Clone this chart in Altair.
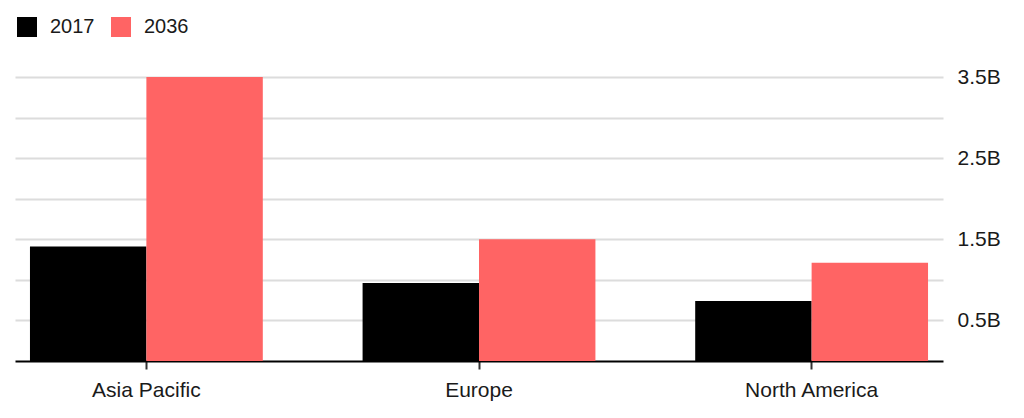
import altair as alt
import pandas as pd

regions = ["Asia Pacific", "Europe", "North America"]
years = ["2017", "2036"]
values_2017 = [1.41, 0.96, 0.74]
values_2036 = [3.50, 1.50, 1.21]
grid_values = [0.5, 1.0, 1.5, 2.0, 2.5, 3.0, 3.5]
colors = ["#000000", "#ff6464"]

rows = []
for r, a, b in zip(regions, values_2017, values_2036):
    rows.append({"region": r, "year": years[0], "value": a})
    rows.append({"region": r, "year": years[1], "value": b})
df = pd.DataFrame(rows)

FONT = "Liberation Sans"

chart = alt.Chart(df).mark_bar().encode(
    x=alt.X("region:N", sort=regions,
            scale=alt.Scale(paddingInner=0.3, paddingOuter=0.045),
            axis=alt.Axis(title=None, labelAngle=0, domainColor="#000000", domainWidth=2,
                          tickColor="#333333", tickSize=8, tickWidth=2,
                          labelPadding=10, labelFontSize=21, labelColor="#1a1a1a",
                          labelFont=FONT, grid=False)),
    xOffset=alt.XOffset("year:N", sort=years,
                        scale=alt.Scale(paddingInner=0, paddingOuter=0)),
    y=alt.Y("value:Q", scale=alt.Scale(domain=[0, 3.5], nice=False),
            axis=alt.Axis(title=None, orient="right", values=grid_values,
                          labelExpr="datum.value % 1 == 0.5 ? datum.value + 'B' : ''",
                          domain=False, ticks=False, labelPadding=14,
                          labelFontSize=21, labelColor="#1a1a1a", labelFont=FONT,
                          gridColor="#dcdcdc", gridWidth=2)),
    color=alt.Color("year:N", sort=years,
                    scale=alt.Scale(domain=years, range=colors),
                    legend=alt.Legend(title=None, orient="none", direction="horizontal",
                                      legendX=2, legendY=-60, padding=0,
                                      symbolType="square", symbolSize=400,
                                      symbolStrokeWidth=0, labelOffset=13,
                                      columnPadding=16, labelFontSize=20,
                                      labelColor="#1a1a1a", labelFont=FONT)),
).properties(
    width=928, height=284,
    autosize=alt.AutoSizeParams(type="none"),
    padding={"left": 7, "top": 69, "right": 70, "bottom": 45},
).configure_view(stroke=None)

chart.save("out.html", embed_options={"renderer": "svg", "actions": False})
